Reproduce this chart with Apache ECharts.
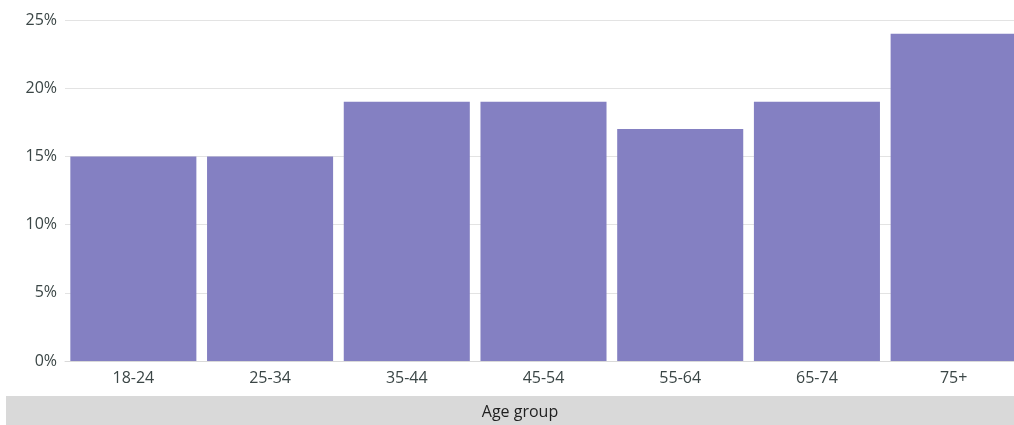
<!DOCTYPE html>
<html>
<head>
<meta charset="utf-8">
<script src="https://cdn.jsdelivr.net/npm/echarts@6/dist/echarts.min.js"></script>
<style>
  html, body { margin: 0; padding: 0; background: #ffffff; }
  #chart { width: 1014px; height: 425px; }
</style>
</head>
<body>
<div id="chart"></div>
<script>
// Share of respondents by age group (percent)
const ageGroups = ['18-24', '25-34', '35-44', '45-54', '55-64', '65-74', '75+'];
const shares = [15, 15, 19, 19, 17, 19, 24];
const axisTitle = 'Age group';

const textColor = '#3b4646';
const fontFamily = '"Open Sans", Lato, sans-serif';

const chart = echarts.init(document.getElementById('chart'));
chart.setOption({
  animation: false,
  backgroundColor: '#ffffff',
  // the plot is wider than the canvas, so the last column is cut at the right edge
  grid: {
    left: 65, width: 957, top: 20, bottom: 64,
    containLabel: false, outerBoundsMode: 'none'
  },
  xAxis: {
    type: 'category',
    data: ageGroups,
    axisLine: { show: true, lineStyle: { color: '#d9d9d9', width: 1 } },
    axisTick: { show: false },
    axisLabel: { color: textColor, fontSize: 16, fontFamily: fontFamily, margin: 9 }
  },
  yAxis: {
    type: 'value',
    min: 0,
    max: 25,
    interval: 5,
    axisLine: { show: false },
    axisTick: { show: false },
    axisLabel: {
      color: textColor, fontSize: 16, fontFamily: fontFamily, margin: 8,
      formatter: v => v + '%'
    },
    splitLine: { lineStyle: { color: '#e3e3e3', width: 1 } }
  },
  series: [{
    type: 'bar',
    data: shares,
    barCategoryGap: '7.8%',
    itemStyle: { color: '#8480c2' }
  }],
  graphic: [
    {
      type: 'rect',
      shape: { x: 6, y: 396, width: 1008, height: 29 },
      style: { fill: '#d9d9d9' },
      silent: true
    },
    {
      type: 'text',
      x: 520,
      y: 412,
      style: {
        text: axisTitle,
        fill: '#1f1f1f',
        font: '16px ' + fontFamily,
        textAlign: 'center',
        textVerticalAlign: 'middle'
      },
      silent: true
    }
  ]
});
</script>
</body>
</html>
